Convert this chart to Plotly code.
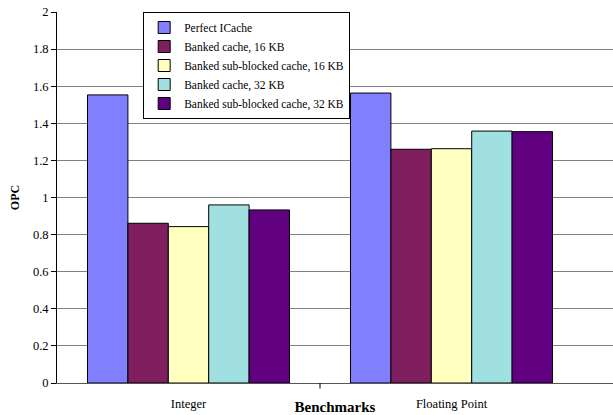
import plotly.graph_objects as go

categories = ["Integer", "Floating Point"]
series_names = [
    "Perfect ICache",
    "Banked cache, 16 KB",
    "Banked sub-blocked cache, 16 KB",
    "Banked cache, 32 KB",
    "Banked sub-blocked cache, 32 KB",
]
perfect_icache = [1.553, 1.563]
banked_16kb = [0.861, 1.260]
subblocked_16kb = [0.843, 1.263]
banked_32kb = [0.960, 1.358]
subblocked_32kb = [0.933, 1.355]
series_values = [perfect_icache, banked_16kb, subblocked_16kb, banked_32kb, subblocked_32kb]
colors = ["#8080FF", "#7F1F5F", "#FFFFC0", "#A0E0E0", "#600080"]
y_ticks = [0, 0.2, 0.4, 0.6, 0.8, 1, 1.2, 1.4, 1.6, 1.8, 2]
y_tick_text = ["0", "0.2", "0.4", "0.6", "0.8", "1", "1.2", "1.4", "1.6", "1.8", "2"]

SERIF = "Liberation Serif, Times New Roman, serif"

fig = go.Figure()
for name, vals, col in zip(series_names, series_values, colors):
    fig.add_trace(go.Bar(
        x=categories, y=vals, name=name,
        marker=dict(color=col, line=dict(color="black", width=1)),
    ))

fig.update_layout(
    width=613, height=415,
    margin=dict(l=57, r=0, t=12, b=32, autoexpand=False),
    paper_bgcolor="white", plot_bgcolor="white",
    barmode="group", bargap=0.232, bargroupgap=0,
    font=dict(family=SERIF, color="black", size=12),
    legend=dict(
        x=0.155, y=1.0, xanchor="left", yanchor="top",
        bgcolor="white", bordercolor="black", borderwidth=1,
        font=dict(family=SERIF, size=11.5, color="black"),
        itemwidth=30, tracegroupgap=0,
    ),
    showlegend=True,
)
fig.update_xaxes(
    type="category", range=[-0.5, 1.614], automargin=False,
    showline=True, linecolor="#555555", linewidth=1,
    ticks="", showgrid=False,
    tickfont=dict(family=SERIF, size=12.5),
    ticklabelstandoff=9,
    title=dict(text="<b>Benchmarks</b>", font=dict(family=SERIF, size=15), standoff=0),
)
fig.update_yaxes(
    range=[0, 2], tickvals=y_ticks, ticktext=y_tick_text, automargin=False,
    showline=True, linecolor="black", linewidth=1,
    ticks="outside", ticklen=5, tickcolor="black",
    showgrid=True, gridcolor="#808080", gridwidth=1,
    tickfont=dict(family=SERIF, size=12.5),
    title=dict(text="<b>OPC</b>", font=dict(family=SERIF, size=12), standoff=10),
    zeroline=False,
)
# Tick mark separating the two benchmark groups
fig.add_shape(type="line", xref="x", yref="paper", x0=0.5, x1=0.5, y0=0, y1=-0.015,
              line=dict(color="black", width=1))

fig.write_html("out.html")
